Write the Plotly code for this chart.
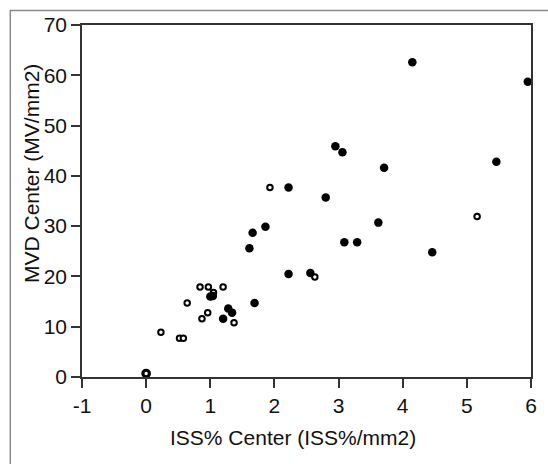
import plotly.graph_objects as go

# Filled circles
filled_x = [4.15, 5.95, 2.95, 3.06, 3.71, 5.46, 2.22, 2.80, 1.86, 1.66, 1.61, 3.09, 3.29,
            3.62, 4.46, 2.22, 2.56, 1.69, 1.00, 1.04, 1.28, 1.34, 1.20]
filled_y = [62.6, 58.7, 45.9, 44.7, 41.6, 42.8, 37.7, 35.7, 29.9, 28.7, 25.6, 26.8, 26.8,
            30.7, 24.8, 20.5, 20.7, 14.7, 16.0, 16.1, 13.6, 12.8, 11.6]

# Open circles
open_x = [1.93, 5.16, 2.63, 0.23, 0.52, 0.58, 0.64, 0.84, 0.97, 1.20, 1.05, 0.96, 0.87, 1.37]
open_y = [37.7, 31.9, 19.9, 8.9, 7.7, 7.7, 14.7, 17.9, 17.9, 17.9, 16.8, 12.8, 11.6, 10.8]

# Overlapping points at the origin (drawn as a heavier ring)
zero_x = [0.0]
zero_y = [0.7]

x_ticks = [-1, 0, 1, 2, 3, 4, 5, 6]
y_ticks = [0, 10, 20, 30, 40, 50, 60, 70]
x_title = "ISS% Center (ISS%/mm2)"
y_title = "MVD Center (MV/mm2)"

FONT = "Liberation Sans, Arial, sans-serif"
FS = 21

fig = go.Figure()
fig.add_trace(go.Scatter(x=open_x, y=open_y, mode="markers", cliponaxis=False,
                         marker=dict(symbol="circle", size=5.5, color="white",
                                     line=dict(color="black", width=2))))
fig.add_trace(go.Scatter(x=zero_x, y=zero_y, mode="markers", cliponaxis=False,
                         marker=dict(symbol="circle", size=6.5, color="white",
                                     line=dict(color="black", width=3.2))))
fig.add_trace(go.Scatter(x=filled_x, y=filled_y, mode="markers", cliponaxis=False,
                         marker=dict(symbol="circle", size=8.5, color="black",
                                     line=dict(width=0))))

axis_common = dict(showgrid=False, zeroline=False, showline=True, linecolor="#333",
                   linewidth=1.5, ticks="outside", ticklen=9, tickwidth=1.5,
                   tickcolor="#333", mirror=True,
                   tickfont=dict(family=FONT, size=FS, color="#111"))

fig.update_layout(
    width=548, height=464,
    margin=dict(l=82, r=17, t=25, b=87),
    paper_bgcolor="white", plot_bgcolor="white",
    showlegend=False,
    xaxis=dict(range=[-1, 6], tickvals=x_ticks, ticktext=[str(v) for v in x_ticks],
               **axis_common),
    yaxis=dict(range=[0, 70], tickvals=y_ticks, ticktext=[str(v) for v in y_ticks],
               **axis_common),
    annotations=[
        dict(text=x_title, xref="paper", yref="paper", x=0.4706, y=-0.1707,
             xanchor="center", yanchor="middle", showarrow=False,
             font=dict(family=FONT, size=FS, color="#111")),
        dict(text=y_title, xref="paper", yref="paper", x=-0.1129, y=0.5775,
             xanchor="center", yanchor="middle", showarrow=False, textangle=-90,
             font=dict(family=FONT, size=FS, color="#111")),
    ],
    shapes=[
        dict(type="rect", xref="paper", yref="paper", x0=-0.1597, y0=-0.30,
             x1=1.07, y1=1.0413, line=dict(color="#8a8a8a", width=1.5), layer="below"),
    ],
)

fig.write_html("out.html")
